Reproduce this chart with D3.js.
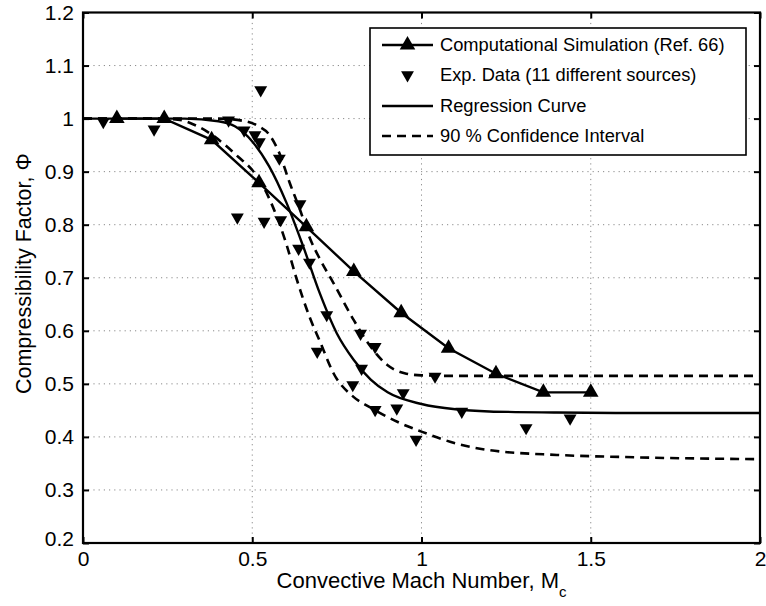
<!DOCTYPE html>
<html>
<head>
<meta charset="utf-8">
<script src="https://cdn.jsdelivr.net/npm/d3@7"></script>
<style>
  html, body { margin: 0; padding: 0; background: #fff; }
  svg { display: block; font-family: "Liberation Sans", Arial, Helvetica, sans-serif; }
</style>
</head>
<body>
<svg id="chart" width="766" height="606"></svg>
<script>
// Computational simulation (Ref. 66): Mach number vs. compressibility factor
const simMach = [0.10, 0.24, 0.38, 0.52, 0.66, 0.80, 0.94, 1.08, 1.22, 1.36, 1.50];
const simPhi  = [1.000, 1.000, 0.960, 0.879, 0.796, 0.712, 0.634, 0.567, 0.519, 0.484, 0.484];

// Experimental data collected from 11 sources
const expMach = [0.06, 0.21, 0.43, 0.525, 0.476, 0.508, 0.521, 0.58, 0.641, 0.456, 0.535, 0.584,
                 0.637, 0.669, 0.72, 0.692, 0.82, 0.863, 0.823, 0.797, 0.946, 0.863, 0.927,
                 0.984, 1.04, 1.119, 1.309, 1.439];
const expPhi  = [0.994, 0.980, 0.997, 1.054, 0.978, 0.969, 0.956, 0.925, 0.839, 0.814, 0.806, 0.809,
                 0.755, 0.729, 0.630, 0.561, 0.595, 0.570, 0.529, 0.498, 0.483, 0.451, 0.454,
                 0.395, 0.514, 0.448, 0.417, 0.435];

// Regression curve
const regMach = [0, 0.30, 0.40, 0.45, 0.50, 0.55, 0.60, 0.65, 0.70, 0.75, 0.80, 0.85, 0.90, 1.00, 1.10, 1.20, 1.40, 1.60, 2.00];
const regPhi  = [1, 1.000, 0.995, 0.985, 0.957, 0.910, 0.843, 0.760, 0.670, 0.595, 0.545, 0.508, 0.484, 0.462, 0.452, 0.448, 0.446, 0.445, 0.445];

// 90 % confidence interval, upper bound
const upMach = [0, 0.40, 0.48, 0.52, 0.55, 0.58, 0.61, 0.64, 0.67, 0.70, 0.74, 0.80, 0.85, 0.90, 0.95, 1.00, 1.10, 2.00];
const upPhi  = [1, 1.000, 0.995, 0.985, 0.970, 0.935, 0.880, 0.830, 0.775, 0.735, 0.690, 0.620, 0.570, 0.535, 0.520, 0.516, 0.515, 0.515];

// 90 % confidence interval, lower bound
const loMach = [0, 0.20, 0.28, 0.33, 0.38, 0.42, 0.46, 0.50, 0.53, 0.56, 0.60, 0.63, 0.67, 0.70, 0.74, 0.80, 0.85, 0.93, 1.00, 1.10, 1.20, 1.40, 1.60, 2.00];
const loPhi  = [1, 1.000, 0.998, 0.988, 0.970, 0.950, 0.927, 0.903, 0.875, 0.835, 0.765, 0.700, 0.625, 0.580, 0.520, 0.475, 0.455, 0.428, 0.410, 0.388, 0.375, 0.366, 0.362, 0.358];

// Axis ticks
const xTicks = [0, 0.5, 1, 1.5, 2];
const xTickLabels = ["0", "0.5", "1", "1.5", "2"];
const yTicks = [0.2, 0.3, 0.4, 0.5, 0.6, 0.7, 0.8, 0.9, 1.0, 1.1, 1.2];
const yTickLabels = ["0.2", "0.3", "0.4", "0.5", "0.6", "0.7", "0.8", "0.9", "1", "1.1", "1.2"];

const legendLabels = ["Computational Simulation (Ref. 66)", "Exp. Data (11 different sources)",
                      "Regression Curve", "90 % Confidence Interval"];

const svg = d3.select("#chart");
svg.append("rect").attr("width", 766).attr("height", 606).attr("fill", "#fff");

const plot = { left: 83, right: 760, top: 12.5, bottom: 543 };
const x = d3.scaleLinear().domain([0, 2]).range([plot.left, plot.right]);
const y = d3.scaleLinear().domain([0.2, 1.2]).range([plot.bottom, plot.top]);

// Dotted grid
const grid = svg.append("g").attr("stroke", "#8a8a8a").attr("stroke-width", 1)
  .attr("stroke-dasharray", "1.2,4");
grid.selectAll("line.gx").data(xTicks.slice(1, -1)).join("line")
  .attr("x1", d => x(d)).attr("x2", d => x(d)).attr("y1", plot.top).attr("y2", plot.bottom);
grid.selectAll("line.gy").data(yTicks.slice(1, -1)).join("line")
  .attr("x1", plot.left).attr("x2", plot.right).attr("y1", d => y(d)).attr("y2", d => y(d));

// Axes with inward ticks
const fmtX = d => xTickLabels[xTicks.indexOf(d)];
const fmtY = d => yTickLabels[yTicks.findIndex(t => Math.abs(t - d) < 1e-9)];
function styleAxis(g, showText) {
  g.select(".domain").remove();
  g.selectAll(".tick line").attr("stroke", "#000").attr("stroke-width", 2);
  g.selectAll(".tick text").attr("fill", "#000").style("font-size", "21px")
    .style("display", showText ? null : "none");
}
svg.append("g").attr("transform", `translate(0,${plot.bottom})`)
  .call(d3.axisBottom(x).tickValues(xTicks).tickFormat(fmtX).tickSize(-6).tickPadding(8))
  .call(g => styleAxis(g, true));
svg.append("g").attr("transform", `translate(0,${plot.top})`)
  .call(d3.axisTop(x).tickValues(xTicks).tickSize(-6))
  .call(g => styleAxis(g, false));
svg.append("g").attr("transform", `translate(${plot.left},0)`)
  .call(d3.axisLeft(y).tickValues(yTicks).tickFormat(fmtY).tickSize(-6).tickPadding(9))
  .call(g => styleAxis(g, true));
svg.append("g").attr("transform", `translate(${plot.right},0)`)
  .call(d3.axisRight(y).tickValues(yTicks).tickSize(-6))
  .call(g => styleAxis(g, false));

// Nudge the bottom-left y label up slightly
svg.selectAll("text").filter(function() { return this.textContent === "0.2"; })
  .attr("dy", "0.1em");

// Frame
svg.append("rect").attr("x", plot.left).attr("y", plot.top)
  .attr("width", plot.right - plot.left).attr("height", plot.bottom - plot.top)
  .attr("fill", "none").attr("stroke", "#000").attr("stroke-width", 2.2);

// Curves
const line = d3.line().x(d => x(d[0])).y(d => y(d[1])).curve(d3.curveMonotoneX);
const zip = (a, b) => a.map((v, i) => [v, b[i]]);

svg.append("path").datum(zip(upMach, upPhi)).attr("d", line)
  .attr("fill", "none").attr("stroke", "#000").attr("stroke-width", 2.6).attr("stroke-dasharray", "9,6");
svg.append("path").datum(zip(loMach, loPhi)).attr("d", line)
  .attr("fill", "none").attr("stroke", "#000").attr("stroke-width", 2.6).attr("stroke-dasharray", "9,6");
svg.append("path").datum(zip(regMach, regPhi)).attr("d", line)
  .attr("fill", "none").attr("stroke", "#000").attr("stroke-width", 2.4);

const simLine = d3.line().x(d => x(d[0])).y(d => y(d[1]));
svg.append("path").datum(zip(simMach, simPhi)).attr("d", simLine)
  .attr("fill", "none").attr("stroke", "#000").attr("stroke-width", 2.4);

const upTri = d3.symbol().type(d3.symbolTriangle).size(105);
const downTri = d3.symbol().type(d3.symbolTriangle).size(72);

svg.append("g").selectAll("path").data(zip(simMach, simPhi)).join("path")
  .attr("d", upTri).attr("fill", "#000")
  .attr("transform", d => `translate(${x(d[0])},${y(d[1])})`);
svg.append("g").selectAll("path").data(zip(expMach, expPhi)).join("path")
  .attr("d", downTri).attr("fill", "#000")
  .attr("transform", d => `translate(${x(d[0])},${y(d[1])}) rotate(180)`);

// Legend
const lg = svg.append("g");
lg.append("rect").attr("x", 370).attr("y", 28).attr("width", 376).attr("height", 127)
  .attr("fill", "#fff").attr("stroke", "#000").attr("stroke-width", 1.6);
const rowY = [45, 75, 106, 136];
const lx1 = 382, lx2 = 433;
lg.append("line").attr("x1", lx1).attr("x2", lx2).attr("y1", rowY[0]).attr("y2", rowY[0])
  .attr("stroke", "#000").attr("stroke-width", 2.4);
lg.append("path").attr("d", upTri).attr("fill", "#000")
  .attr("transform", `translate(${(lx1 + lx2) / 2},${rowY[0]})`);
lg.append("path").attr("d", downTri).attr("fill", "#000")
  .attr("transform", `translate(${(lx1 + lx2) / 2},${rowY[1]}) rotate(180)`);
lg.append("line").attr("x1", lx1).attr("x2", lx2).attr("y1", rowY[2]).attr("y2", rowY[2])
  .attr("stroke", "#000").attr("stroke-width", 2.4);
lg.append("line").attr("x1", lx1).attr("x2", lx2).attr("y1", rowY[3]).attr("y2", rowY[3])
  .attr("stroke", "#000").attr("stroke-width", 2.6).attr("stroke-dasharray", "9,6");
lg.selectAll("text").data(legendLabels).join("text")
  .attr("x", 440).attr("y", (d, i) => rowY[i]).attr("dy", "0.35em")
  .style("font-size", "18.3px").attr("fill", "#000").text(d => d);

// Axis titles
const xt = svg.append("text").attr("x", (plot.left + plot.right) / 2).attr("y", 588)
  .attr("text-anchor", "middle").style("font-size", "22px").attr("fill", "#000");
xt.append("tspan").text("Convective Mach Number, M");
xt.append("tspan").attr("dy", 9).style("font-size", "15px").text("c");

svg.append("text").attr("transform", `translate(31,${(plot.top + plot.bottom) / 2 - 4}) rotate(-90)`)
  .attr("text-anchor", "middle").style("font-size", "21.5px").attr("fill", "#000")
  .text("Compressibility Factor, Φ");
</script>
</body>
</html>
